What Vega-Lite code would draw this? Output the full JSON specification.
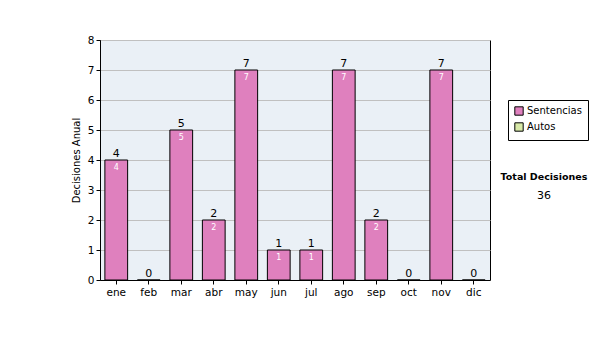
{
  "$schema": "https://vega.github.io/schema/vega-lite/v6.json",
  "autosize": {"type": "pad"},
  "padding": {"left": 70, "top": 34, "right": 0, "bottom": 0},
  "background": "white",
  "config": {
    "font": "DejaVu Sans",
    "view": {"stroke": null},
    "concat": {"spacing": 8}
  },
  "data": {
    "values": [
      {"mes": "ene", "serie": "Sentencias", "valor": 4},
      {"mes": "feb", "serie": "Sentencias", "valor": 0},
      {"mes": "mar", "serie": "Sentencias", "valor": 5},
      {"mes": "abr", "serie": "Sentencias", "valor": 2},
      {"mes": "may", "serie": "Sentencias", "valor": 7},
      {"mes": "jun", "serie": "Sentencias", "valor": 1},
      {"mes": "jul", "serie": "Sentencias", "valor": 1},
      {"mes": "ago", "serie": "Sentencias", "valor": 7},
      {"mes": "sep", "serie": "Sentencias", "valor": 2},
      {"mes": "oct", "serie": "Sentencias", "valor": 0},
      {"mes": "nov", "serie": "Sentencias", "valor": 7},
      {"mes": "dic", "serie": "Sentencias", "valor": 0}
    ]
  },
  "hconcat": [
    {
      "width": 390,
      "height": 240,
      "view": {"stroke": "#000000", "strokeWidth": 1, "fill": "#eaf0f6"},
      "encoding": {
        "x": {
          "field": "mes",
          "type": "ordinal",
          "sort": ["ene","feb","mar","abr","may","jun","jul","ago","sep","oct","nov","dic"],
          "scale": {"padding": 0},
          "axis": {
            "title": null,
            "labelAngle": 0,
            "labelFontSize": 10.5,
            "labelColor": "#000000",
            "labelPadding": 3,
            "tickColor": "#000000",
            "tickSize": 4,
            "domainColor": "#000000",
            "grid": false
          }
        },
        "y": {
          "field": "valor",
          "type": "quantitative",
          "scale": {"domain": [0, 8], "nice": false},
          "axis": {
            "title": "Decisiones Anual",
            "titleFontSize": 10,
            "titleFontWeight": "normal",
            "titleColor": "#000000",
            "titlePadding": 6,
            "values": [0,1,2,3,4,5,6,7,8],
            "labelFontSize": 10.5,
            "labelColor": "#000000",
            "labelPadding": 2,
            "tickColor": "#000000",
            "tickSize": 4,
            "domainColor": "#000000",
            "gridColor": "#c0c0c0",
            "gridWidth": 1
          }
        }
      },
      "layer": [
        {
          "mark": {"type": "bar", "stroke": "#000000", "strokeWidth": 1, "width": {"band": 0.7}},
          "encoding": {
            "color": {
              "field": "serie",
              "type": "nominal",
              "scale": {"domain": ["Sentencias", "Autos"], "range": ["#df80be", "#d8e9a8"]},
              "legend": {
                "title": null,
                "orient": "none",
                "legendX": 408,
                "legendY": 60,
                "strokeColor": "#000000",
                "fillColor": "#ffffff",
                "padding": 6,
                "labelFontSize": 10,
                "labelColor": "#000000",
                "labelOffset": 3,
                "symbolType": "square",
                "symbolSize": 70,
                "symbolStrokeColor": "#000000",
                "symbolStrokeWidth": 1,
                "rowPadding": 2
              }
            }
          }
        },
        {
          "mark": {"type": "text", "baseline": "bottom", "dy": -1, "fontSize": 11, "color": "#000000"},
          "encoding": {"text": {"field": "valor", "type": "quantitative"}}
        },
        {
          "transform": [{"filter": "datum.valor > 0"}],
          "mark": {"type": "text", "baseline": "top", "dy": 4, "fontSize": 8, "color": "#ffffff"},
          "encoding": {"text": {"field": "valor", "type": "quantitative"}}
        }
      ]
    },
    {
      "width": 90,
      "height": 240,
      "transform": [{"aggregate": [{"op": "sum", "field": "valor", "as": "total"}]}],
      "layer": [
        {
          "mark": {"type": "text", "fontSize": 9.5, "fontWeight": "bold", "dy": 17, "color": "#000000"},
          "encoding": {"text": {"value": "Total Decisiones"}}
        },
        {
          "mark": {"type": "text", "fontSize": 11, "dy": 36, "color": "#000000"},
          "encoding": {"text": {"field": "total", "type": "quantitative"}}
        }
      ]
    }
  ]
}
